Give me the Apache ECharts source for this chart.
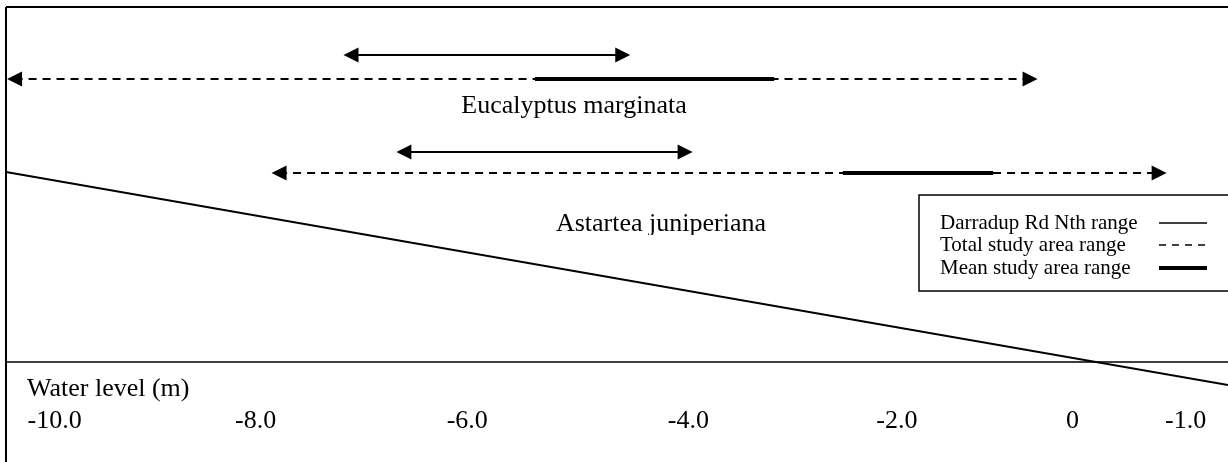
<!DOCTYPE html>
<html>
<head>
<meta charset="utf-8">
<script src="https://cdn.jsdelivr.net/npm/echarts@6/dist/echarts.min.js"></script>
<style>
  html, body { margin: 0; padding: 0; background: #fff; }
  #chart { width: 1228px; height: 462px; }
</style>
</head>
<body>
<div id="chart"></div>
<script>
// Water-level ranges (m) for each species
const species = ['Eucalyptus marginata', 'Astartea juniperiana'];
const siteRange  = [[-7.21, -4.50], [-6.71, -3.91]];   // Darradup Rd Nth range
const totalRange = [[-10.39, -0.65], [-7.89, 0.57]];   // Total study area range
const meanRange  = [[-5.40, -3.14], [-2.49, -1.07]];   // Mean study area range

// Axis tick labels and the water levels they sit at
const tickLabels = ['-10.0', '-8.0', '-6.0', '-4.0', '-2.0', '0', '-1.0'];
const tickAt = [-9.94, -8.04, -6.04, -3.95, -1.98, -0.32, 0.75];

// Sloping reference line: [water level, height]
const groundLine = [[-10.4, 190], [1.15, -23]];

const legendNames = ['Darradup Rd Nth range', 'Total study area range', 'Mean study area range'];

// Layout rows on the hidden vertical axis (one entry per species)
const ROWS = { site: [307, 210], total: [283, 189], mean: [283, 189] };

const FONT = '"Liberation Serif", "Times New Roman", serif';

function rangeSeries(name, ranges, rowY, width, dash, arrows, z) {
  return {
    type: 'custom',
    name: name,
    clip: false,
    z: z,
    data: ranges.map((r, i) => [r[0], r[1], rowY[i]]),
    renderItem: function (params, api) {
      const a = api.coord([api.value(0), api.value(2)]);
      const b = api.coord([api.value(1), api.value(2)]);
      const L = 15, H = 7.5;
      const inset = arrows ? L / 2 : 0;
      const children = [{
        type: 'line',
        shape: { x1: a[0] + inset, y1: a[1], x2: b[0] - inset, y2: b[1] },
        style: { stroke: '#000', lineWidth: width, lineDash: dash, lineCap: 'butt' }
      }];
      if (arrows) {
        children.push({
          type: 'polygon',
          shape: { points: [[a[0], a[1]], [a[0] + L, a[1] - H], [a[0] + L, a[1] + H]] },
          style: { fill: '#000' }
        });
        children.push({
          type: 'polygon',
          shape: { points: [[b[0], b[1]], [b[0] - L, b[1] - H], [b[0] - L, b[1] + H]] },
          style: { fill: '#000' }
        });
      }
      return { type: 'group', children: children };
    }
  };
}

const chart = echarts.init(document.getElementById('chart'), null, { renderer: 'canvas' });

const legendX = 919, legendY = 195;
const legendRows = [223, 245, 268];

chart.setOption({
  animation: false,
  backgroundColor: '#fff',
  grid: { left: 6, right: 0, top: 7, bottom: 100, containLabel: false, outerBoundsMode: 'none' },
  xAxis: {
    type: 'value',
    min: -10.4,
    max: 1.15,
    axisLine: { show: true, onZero: false, lineStyle: { color: '#000', width: 1.5 } },
    axisTick: { show: false },
    splitLine: { show: false },
    axisLabel: {
      customValues: tickAt,
      margin: 46,
      color: '#000',
      fontSize: 26,
      fontFamily: FONT,
      formatter: function (v) {
        let best = 0;
        tickAt.forEach((t, i) => { if (Math.abs(t - v) < Math.abs(tickAt[best] - v)) best = i; });
        return tickLabels[best];
      }
    }
  },
  yAxis: {
    type: 'value',
    min: 0,
    max: 355,
    show: false
  },
  series: [
    {
      type: 'line',
      name: 'ground',
      data: groundLine,
      clip: false,
      symbol: 'none',
      lineStyle: { color: '#000', width: 1.8 },
      z: 2
    },
    rangeSeries(legendNames[1], totalRange, ROWS.total, 2, [8, 6], true, 3),
    rangeSeries(legendNames[2], meanRange, ROWS.mean, 4, null, false, 4),
    rangeSeries(legendNames[0], siteRange, ROWS.site, 1.8, null, true, 4)
  ],
  graphic: [
    // frame edges
    { type: 'line', shape: { x1: 6, y1: 7, x2: 1228, y2: 7 }, style: { stroke: '#000', lineWidth: 2 }, z: 10 },
    { type: 'line', shape: { x1: 6, y1: 7, x2: 6, y2: 462 }, style: { stroke: '#000', lineWidth: 2 }, z: 10 },
    // species labels
    { type: 'text', x: 574, y: 106, z: 10,
      style: { text: species[0], font: '26px ' + FONT, fill: '#000', textAlign: 'center', textVerticalAlign: 'middle' } },
    { type: 'text', x: 661, y: 224, z: 10,
      style: { text: species[1], font: '26px ' + FONT, fill: '#000', textAlign: 'center', textVerticalAlign: 'middle' } },
    // text box edge trims the descenders of the lower label
    { type: 'rect', shape: { x: 545, y: 235, width: 235, height: 10 }, style: { fill: '#fff' }, z: 11 },
    // axis title
    { type: 'text', x: 27, y: 389, z: 10,
      style: { text: 'Water level (m)', font: '26px ' + FONT, fill: '#000', textAlign: 'left', textVerticalAlign: 'middle' } },
    // legend box
    { type: 'rect', shape: { x: legendX, y: legendY, width: 330, height: 96 },
      style: { fill: '#fff', stroke: '#000', lineWidth: 1.5 }, z: 12 },
    { type: 'text', x: 940, y: legendRows[0], z: 13,
      style: { text: legendNames[0], font: '21px ' + FONT, fill: '#000', textVerticalAlign: 'middle' } },
    { type: 'text', x: 940, y: legendRows[1], z: 13,
      style: { text: legendNames[1], font: '21px ' + FONT, fill: '#000', textVerticalAlign: 'middle' } },
    { type: 'text', x: 940, y: legendRows[2], z: 13,
      style: { text: legendNames[2], font: '21px ' + FONT, fill: '#000', textVerticalAlign: 'middle' } },
    { type: 'line', shape: { x1: 1159, y1: legendRows[0], x2: 1207, y2: legendRows[0] },
      style: { stroke: '#000', lineWidth: 1.5 }, z: 13 },
    { type: 'line', shape: { x1: 1159, y1: legendRows[1], x2: 1207, y2: legendRows[1] },
      style: { stroke: '#000', lineWidth: 1.5, lineDash: [7, 6] }, z: 13 },
    { type: 'line', shape: { x1: 1159, y1: legendRows[2], x2: 1207, y2: legendRows[2] },
      style: { stroke: '#000', lineWidth: 4 }, z: 13 }
  ]
});
</script>
</body>
</html>
